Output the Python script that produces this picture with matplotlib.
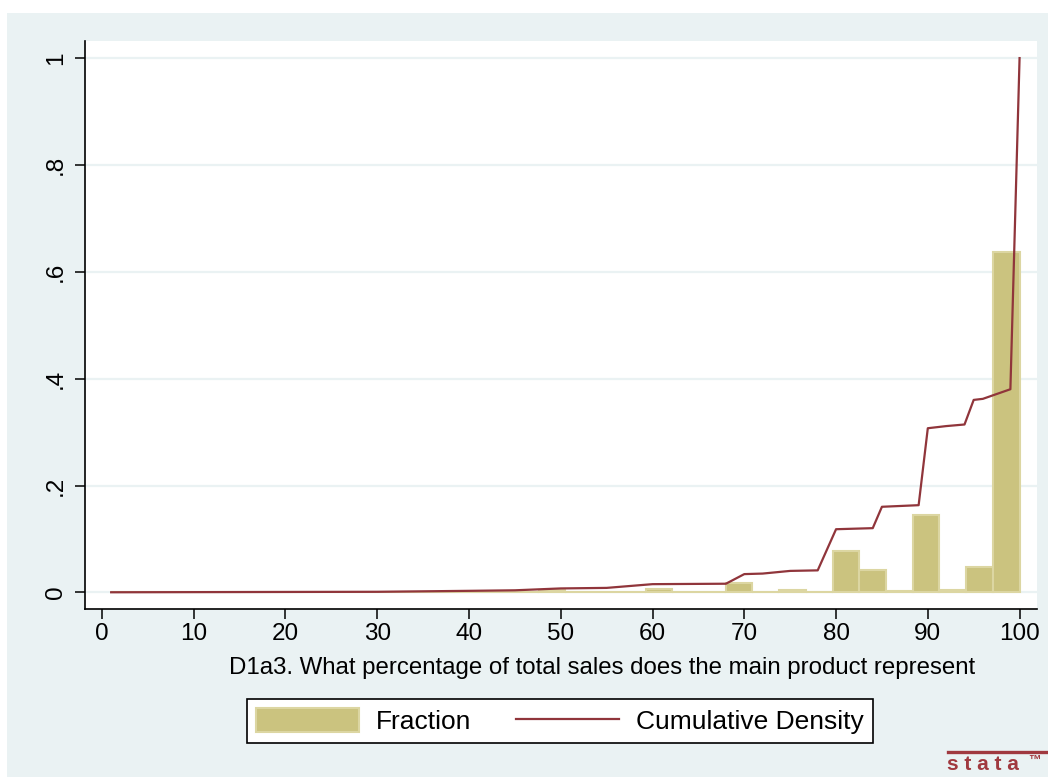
import numpy as np
import matplotlib.pyplot as plt
from matplotlib.patches import Rectangle, Patch
from matplotlib.lines import Line2D

plt.rcParams['font.family'] = ['Liberation Sans', 'DejaVu Sans']

# histogram: 34 bins from 1 to 100
bin_min = 1
bin_max = 100
n_bins = 34
fraction = [0.0003, 0.0, 0.0, 0.0002, 0.0, 0.0, 0.0003, 0.0, 0.0, 0.0,
            0.0005, 0.0002, 0.0004, 0.0012, 0.0005, 0.0003, 0.0040, 0.0010,
            0.0008, 0.0, 0.0070, 0.0008, 0.0, 0.0180, 0.0010, 0.0050,
            0.0010, 0.0770, 0.0420, 0.0020, 0.1450, 0.0040, 0.0470, 0.6380]

# cumulative density line
cum_x = [1, 30, 40, 45, 50, 55, 60, 68, 70, 72, 75, 78, 80, 84, 85, 89,
         90, 92, 94, 95, 96, 99, 100]
cum_y = [0.0003, 0.0012, 0.003, 0.004, 0.0075, 0.0085, 0.0155, 0.0163,
         0.0343, 0.0353, 0.0403, 0.0413, 0.1183, 0.1203, 0.1603, 0.1633,
         0.3073, 0.3113, 0.3143, 0.3603, 0.3623, 0.3803, 1.0]

x_ticks = list(range(0, 101, 10))
y_ticks = [0, 0.2, 0.4, 0.6, 0.8, 1.0]
y_ticklabels = ['0', '.2', '.4', '.6', '.8', '1']

xlabel = 'D1a3. What percentage of total sales does the main product represent'

bar_color = '#CBC37F'
bar_edge = '#DCD6A2'
line_color = '#90353B'
bg_color = '#EAF2F3'

fig = plt.figure(figsize=(10.48, 7.77), dpi=100, facecolor='white')
fig.patches.append(Rectangle((7/1048, 0), 1, 1 - 13/777, transform=fig.transFigure,
                             facecolor=bg_color, edgecolor='none', zorder=-10))

ax = fig.add_axes([85/1048, 1 - 609/777, (1037 - 85)/1048, (609 - 41)/777])
ax.set_facecolor('white')

width = (bin_max - bin_min) / n_bins
edges = bin_min + width * np.arange(n_bins)
ax.bar(edges, fraction, width=width, align='edge', color=bar_color,
       edgecolor=bar_edge, linewidth=1.5, zorder=2)
ax.plot(cum_x, cum_y, color=line_color, lw=1.6, zorder=3)

ax.set_xlim(-1.85, 101.9)
ax.set_ylim(-0.031, 1.032)

ax.set_xticks(x_ticks)
ax.set_yticks(y_ticks)
ax.set_yticklabels(y_ticklabels, rotation=90, va='center')
ax.tick_params(axis='both', labelsize=17.5, length=7, width=1.1, colors='black')
ax.tick_params(axis='y', pad=6)
ax.tick_params(axis='x', pad=3)

ax.yaxis.grid(True, color=bg_color, lw=1.6)
ax.set_axisbelow(True)
for s in ['top', 'right']:
    ax.spines[s].set_visible(False)
for s in ['left', 'bottom']:
    ax.spines[s].set_linewidth(1.2)

ax.set_xlabel(xlabel, fontsize=17.3)
ax.xaxis.set_label_coords((602 - 85) / 952, -(668 - 609) / 568)
ax.xaxis.label.set_va('center')

handles = [Patch(facecolor=bar_color, edgecolor=bar_edge, linewidth=1.5),
           Line2D([], [], color=line_color, lw=1.6)]
leg = fig.legend(handles, ['Fraction', 'Cumulative Density'], ncol=2,
                 loc='center', bbox_to_anchor=(560/1048, 1 - 721/777),
                 fontsize=19, frameon=True, fancybox=False, edgecolor='black',
                 framealpha=1, handlelength=3.9, handleheight=1.0,
                 columnspacing=1.7, handletextpad=0.65, borderpad=0.35,
                 borderaxespad=0)
leg.get_frame().set_linewidth(1.2)

# stata logo
fig.add_artist(Line2D([948/1048, 1.0], [1 - 752/777] * 2, color='#A0393F', lw=2.4,
                      transform=fig.transFigure))
fig.text(947/1048, 1 - 765/777, 's t a t a', color='#A0393F', fontsize=15,
         fontweight='bold', va='center', ha='left')
fig.text(1028/1048, 1 - 761/777, '™', color='#A0393F', fontsize=9,
         fontweight='bold', va='center', ha='left')

fig.savefig('out.png', dpi=100, facecolor='white')
